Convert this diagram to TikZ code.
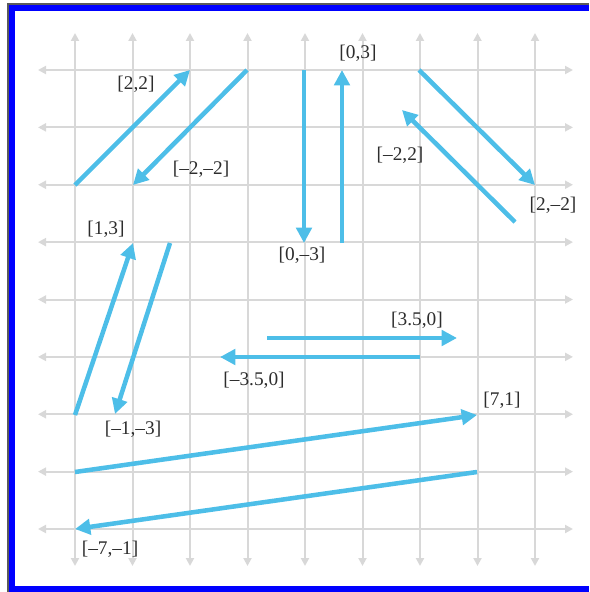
\documentclass[tikz,border=0pt]{standalone}
\usepackage{fontspec}
\setmainfont{Liberation Serif}
\usetikzlibrary{arrows.meta}
\definecolor{vecblue}{RGB}{77,190,232}
\definecolor{gridgray}{RGB}{216,216,216}
\definecolor{labelgray}{RGB}{45,45,45}
\definecolor{framegray}{RGB}{90,90,90}
\tikzset{
  gridline/.style={draw=gridgray, line width=1.5pt, -{Triangle[length=6pt,width=6pt]}},
  vec/.style={draw=vecblue, line width=3.4pt, -{Triangle[length=11.5pt,width=11.5pt]}},
  vlabel/.style={inner sep=0pt, text=labelgray, font=\fontsize{14.5}{16}\selectfont}
}
\begin{document}
\begin{tikzpicture}[x=0.75pt,y=-0.75pt]
\useasboundingbox (0,0) rectangle (589,592);
% frame
\fill[framegray] (7,3) rectangle (9,592);
\fill[framegray] (7,3) rectangle (589,5);
\fill[blue] (9,5) rectangle (15,592);
\fill[blue] (9,5) rectangle (589,11);
\fill[blue] (9,586) rectangle (589,592);
% grid
\foreach \i in {0,...,8} {
  \draw[gridline] ({75+57.5*\i},300) -- ({75+57.5*\i},33);
  \draw[gridline] ({75+57.5*\i},300) -- ({75+57.5*\i},566);
  \draw[gridline] (300,{70+57.375*\i}) -- (38,{70+57.375*\i});
  \draw[gridline] (300,{70+57.375*\i}) -- (573,{70+57.375*\i});
}
% endpoints
\coordinate (a1s) at (75,185);  \coordinate (a1e) at (190,70);
\coordinate (a2s) at (247,70);  \coordinate (a2e) at (133,185);
\coordinate (a3s) at (304,70);  \coordinate (a3e) at (304,243);
\coordinate (a4s) at (342,243); \coordinate (a4e) at (342,70);
\coordinate (a5s) at (419,70);  \coordinate (a5e) at (535,185);
\coordinate (a6s) at (515,222); \coordinate (a6e) at (402,110);
\coordinate (a7s) at (75,415);  \coordinate (a7e) at (133,243);
\coordinate (a8s) at (170,243); \coordinate (a8e) at (115,414);
\coordinate (a9s) at (267,338); \coordinate (a9e) at (457,338);
\coordinate (a10s) at (420,357); \coordinate (a10e) at (220,357);
\coordinate (a11s) at (75,472); \coordinate (a11e) at (477,415);
\coordinate (a12s) at (477,472); \coordinate (a12e) at (75,529);
% vectors
\foreach \k in {1,...,12} { \draw[vec] (a\k s) -- (a\k e); }
% labels
\node[vlabel] (l1) at (136,84) {[2,2]};
\node[vlabel] (l2) at (201,169) {[\textendash2,\textendash2]};
\node[vlabel] (l3) at (106,229) {[1,3]};
\node[vlabel] (l4) at (302,255) {[0,\textendash3]};
\node[vlabel] (l5) at (358,53) {[0,3]};
\node[vlabel] (l6) at (400,155) {[\textendash2,2]};
\node[vlabel] (l7) at (553,205) {[2,\textendash2]};
\node[vlabel] (l8) at (133,429) {[\textendash1,\textendash3]};
\node[vlabel] (l9) at (254,380) {[\textendash3.5,0]};
\node[vlabel] (l10) at (417,320) {[3.5,0]};
\node[vlabel] (l11) at (502,400) {[7,1]};
\node[vlabel] (l12) at (110,549) {[\textendash7,\textendash1]};
\end{tikzpicture}
\end{document}
